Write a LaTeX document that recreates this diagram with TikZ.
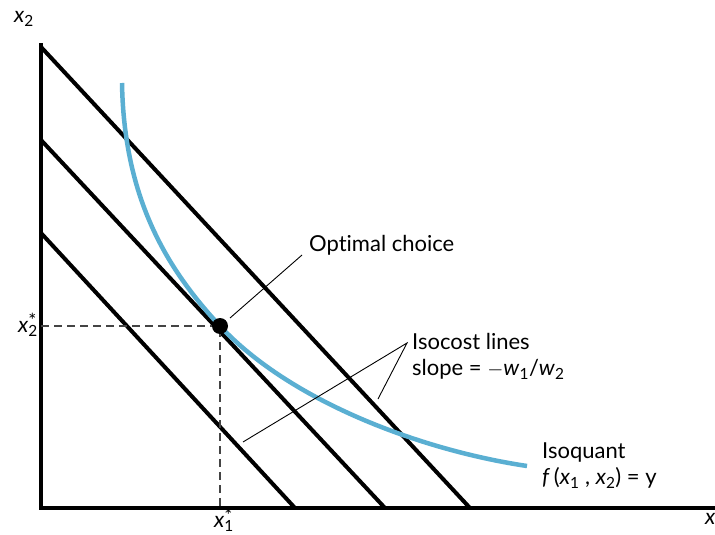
\documentclass[tikz,border=0pt]{standalone}
\usepackage{fontspec}
\setmainfont{Lato}[Ligatures=NoCommon]
\usetikzlibrary{calc}
\definecolor{isoblue}{HTML}{5AAFD2}
\definecolor{dashgray}{HTML}{444444}
\newcommand{\vsub}[2]{\textit{#1}\textsubscript{\upshape#2}}
\newcommand{\vstar}[2]{\textit{#1}\rlap{\raisebox{0.45ex}{\fontsize{19}{19}\selectfont *}}\textsubscript{\upshape#2}\hspace{0.25em}}
\begin{document}
\begin{tikzpicture}[x=1pt,y=-1pt,
  axis/.style={line width=3.6pt,line cap=rect},
  isocost/.style={line width=4pt},
  leader/.style={line width=0.9pt},
  guide/.style={line width=1.1pt,dashgray,dash pattern=on 8pt off 5pt},
  lbl/.style={font=\fontsize{22}{26}\selectfont,inner sep=0pt},
  lblL/.style={lbl,anchor=west,align=left}]
\useasboundingbox (0,0) rectangle (715,535);
\fill[white] (0,0) rectangle (715,535);
% axes
\coordinate (O) at (41,508);
\coordinate (ytop) at (41,45);
\coordinate (xend) at (716,508);
% isocost lines
\coordinate (a1) at (41,47);  \coordinate (b1) at (470,508);
\coordinate (a2) at (41,140); \coordinate (b2) at (385,508);
\coordinate (a3) at (41,233); \coordinate (b3) at (295,508);
\draw[isocost] (a1) -- (b1);
\draw[isocost] (a2) -- (b2);
\draw[isocost] (a3) -- (b3);
% isoquant
\coordinate (qtop) at (122,83);
\coordinate (opt) at (220,326);
\coordinate (qend) at (527,466);
\draw[isoblue,line width=4.5pt] (qtop) .. controls (124,200) and (168,270) .. (opt)
  .. controls (290,401) and (420,450) .. (qend);
\draw[axis] (ytop) -- (O) -- (xend);
% optimal point
\coordinate (optx) at (41,326);
\coordinate (opty) at (220,508);
\draw[guide] (optx) -- (opt) -- (opty);
\fill (opt) circle (8pt);
% labels
\node[lbl,anchor=east] (x2) at (34,19) {\vsub{x}{2}};
\node[lbl,anchor=east] (x2s) at (38,325) {\vstar{x}{2}};
\node[lbl,anchor=north] (x1s) at (224,508) {\vstar{x}{1}};
\node[lbl,anchor=west] (x1) at (705,521) {\vsub{x}{1}};
\node[lblL] (optlbl) at (309,245) {Optimal choice};
\coordinate (optlead) at (302,255);
\coordinate (optfoot) at (230,318);
\draw[leader] (optfoot) -- (optlead);
\node[lblL] (iso) at (412,356) {Isocost lines\\slope = \(-\)\vsub{w}{1}/\vsub{w}{2}};
\coordinate (apex) at (407,343);
\coordinate (foot1) at (243,442);
\coordinate (foot2) at (378,399);
\draw[leader] (foot1) -- (apex) -- (foot2);
\node[lblL] (isoq) at (542,466) {Isoquant\\\textit{f}\,(\vsub{x}{1} , \vsub{x}{2}) = y};
\end{tikzpicture}
\end{document}
